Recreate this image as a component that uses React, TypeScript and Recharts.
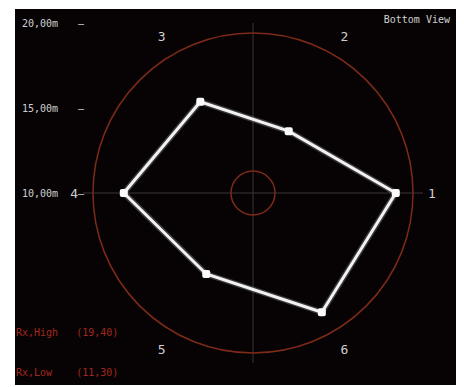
import { RadarChart, Radar, PolarGrid, PolarAngleAxis, PolarRadiusAxis } from 'recharts'

const spokes = ['1', '2', '3', '4', '5', '6']
const distance = [18.4, 14.2, 16.2, 17.6, 15.5, 18.1]
const radiusTicks = [10, 15, 20]
const radiusLabels = ['10,00m', '15,00m', '20,00m']
const ringRadii = [22, 160]
const crossAngles = [0, 90, 180, 270]
const legendNames = ['Rx,High', 'Rx,Low']
const legendValues = ['(19,40)', '(11,30)']

// spokes run counter-clockwise from 3 o'clock; recharts lays categories out
// clockwise, so feed them in reverse order
const data = spokes.map((s, i) => ({ spoke: s, d: distance[i] })).reverse()

const mono = '"DejaVu Sans Mono", monospace'

function RadiusTick(props: any) {
  const { y, payload } = props
  const idx = radiusTicks.indexOf(payload.value)
  return (
    <g fill="#cfcfcf" fontSize={10} fontFamily={mono}>
      <text x={22} y={y} dy={4}>{radiusLabels[idx]}</text>
      <text x={78} y={y} dy={4}>—</text>
    </g>
  )
}

function Dot(props: any) {
  const { cx, cy } = props
  return <rect x={cx - 4} y={cy - 4} width={8} height={8} rx={2} fill="#fafafa" />
}

export default function App() {
  return (
    <div style={{ position: 'fixed', left: 0, top: 0, width: 464, height: 387, background: '#fff' }}>
      <div style={{ position: 'absolute', left: 15, top: 9, width: 441, height: 376, background: '#070304' }} />
      <div style={{ position: 'absolute', left: 0, top: 0 }}>
        <RadarChart
          width={464}
          height={387}
          data={data}
          cx={253}
          cy={193}
          outerRadius={170}
          startAngle={-60}
          endAngle={-420}
          margin={{ top: 0, right: 0, bottom: 0, left: 0 }}
        >
          <PolarGrid gridType="circle" polarRadius={[0.01]} polarAngles={crossAngles} stroke="#3a3434" strokeWidth={1} />
          <PolarGrid gridType="circle" polarRadius={ringRadii} radialLines={false} stroke="#7d2a18" strokeWidth={1.5} />
          <PolarAngleAxis
            dataKey="spoke"
            axisLine={false}
            tickLine={false}
            tickSize={5}
            tick={{ fill: '#cfcfcf', fontSize: 13, fontFamily: mono }}
          />
          <PolarRadiusAxis
            angle={90}
            domain={[10, 20]}
            ticks={radiusTicks}
            axisLine={false}
            tickLine={false}
            tick={<RadiusTick />}
          />
          <Radar dataKey="d" stroke="#8a8a8a" strokeWidth={6} strokeOpacity={0.4} fill="none" isAnimationActive={false} />
          <Radar dataKey="d" stroke="#f2f2f2" strokeWidth={3} fill="none" dot={<Dot />} isAnimationActive={false} />
        </RadarChart>
      </div>
      <div style={{ position: 'absolute', right: 14, top: 14, color: '#cfcfcf', fontSize: 10, fontFamily: mono }}>
        Bottom View
      </div>
      {legendNames.map((n, i) => (
        <div
          key={n}
          style={{
            position: 'absolute',
            left: 16,
            top: 327 + i * 40,
            color: '#a3281c',
            fontSize: 10,
            fontFamily: mono,
            whiteSpace: 'pre',
          }}
        >
          {n.padEnd(10, ' ')}{legendValues[i]}
        </div>
      ))}
    </div>
  )
}
